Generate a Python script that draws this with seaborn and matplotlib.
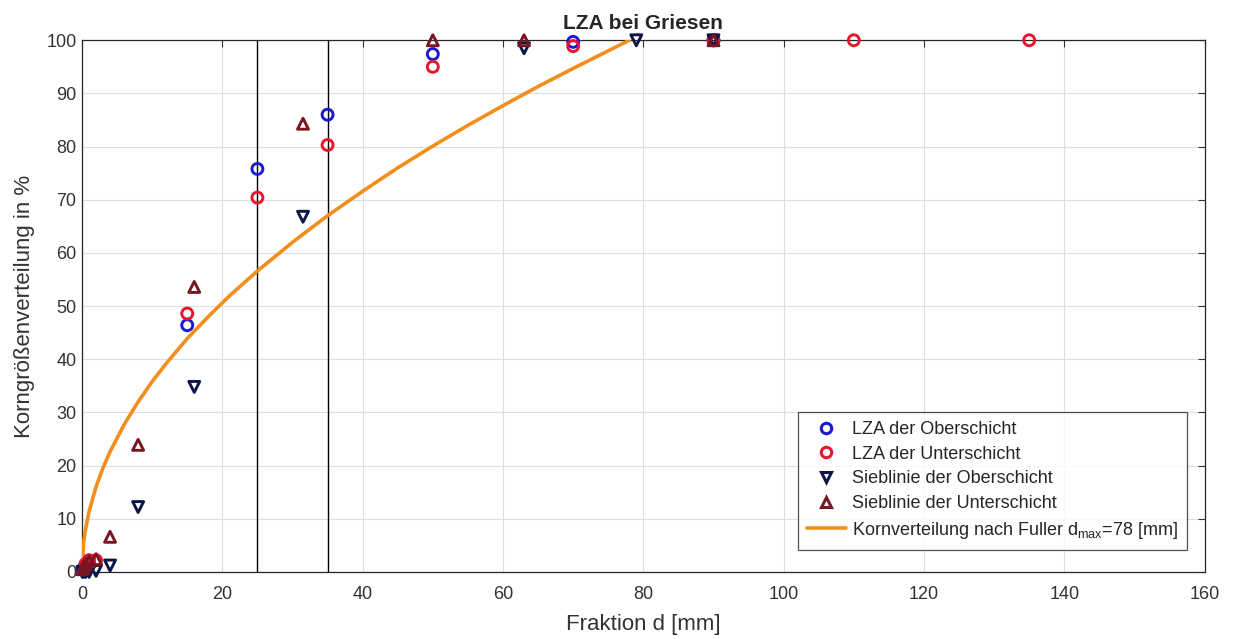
import numpy as np
import pandas as pd
import matplotlib
matplotlib.use("Agg")
import matplotlib.pyplot as plt
import seaborn as sns
from matplotlib.lines import Line2D

# values
lza_ober_x = [0.1, 0.5, 1, 15, 25, 35, 50, 70, 90]
lza_ober_y = [0.5, 1.0, 1.5, 46.4, 75.8, 86.0, 97.4, 99.7, 100]

lza_unter_x = [0.5, 1, 2, 15, 25, 35, 50, 70, 90, 110, 135]
lza_unter_y = [1.5, 2.2, 2.2, 48.6, 70.4, 80.3, 95.0, 98.9, 100, 100, 100]

sieb_ober_x = [0.063, 0.25, 0.5, 1, 2, 4, 8, 16, 31.5, 63, 79, 90]
sieb_ober_y = [0, 0, 0, 0, 0.2, 1.2, 12.2, 34.8, 66.8, 98.5, 100, 100]

sieb_unter_x = [0.063, 0.25, 0.5, 1, 2, 4, 8, 16, 31.5, 50, 63, 90]
sieb_unter_y = [0.5, 1.0, 1.5, 2.0, 2.4, 6.6, 23.9, 53.6, 84.3, 100, 100, 100]

fuller_d = [0, 0.25, 0.5, 1, 2, 3, 4, 6, 8, 10, 12, 15, 18, 21, 25, 30, 35,
            40, 45, 50, 55, 60, 65, 70, 78]
fuller_p = [0, 5.7, 8.0, 11.3, 16.0, 19.6, 22.6, 27.7, 32.0, 35.8, 39.2, 43.9,
            48.0, 51.9, 56.6, 62.0, 67.0, 71.6, 76.0, 80.1, 84.0, 87.7, 91.3,
            94.7, 100]

grenzen = [25, 35]

labels = ["LZA der Oberschicht", "LZA der Unterschicht",
          "Sieblinie der Oberschicht", "Sieblinie der Unterschicht",
          r"Kornverteilung nach Fuller d$_{max}$=78 [mm]"]

sns.set_style("white")
plt.rcParams['font.family'] = ['Liberation Sans', 'DejaVu Sans']
plt.rcParams['mathtext.default'] = 'regular'

fig = plt.figure(figsize=(12.33, 6.39), dpi=100)
ax = fig.add_axes([0.0665, 0.105, 0.9105, 0.832])

c_blue = "#1a1ad0"
c_red = "#e8152e"
c_navy = "#0d1745"
c_dred = "#7a1522"
c_orange = "#f28e1c"

series = [
    (lza_ober_x, lza_ober_y, "o", c_blue),
    (lza_unter_x, lza_unter_y, "o", c_red),
    (sieb_ober_x, sieb_ober_y, "v", c_navy),
    (sieb_unter_x, sieb_unter_y, "^", c_dred),
]
for x, y, m, c in series:
    sns.scatterplot(x=x, y=y, marker=m, s=62, facecolors="none",
                    edgecolor=c, linewidth=2.1, ax=ax, clip_on=False, zorder=4)

sns.lineplot(x=fuller_d, y=fuller_p, color=c_orange, linewidth=2.6, ax=ax,
             zorder=3)

for g in grenzen:
    ax.axvline(g, color="black", linewidth=1.0, zorder=2)

ax.set_xlim(0, 160)
ax.set_ylim(0, 100)
ax.set_xticks(np.arange(0, 161, 20))
ax.set_yticks(np.arange(0, 101, 10))
ax.grid(True, color="#dedede", linewidth=0.8)
ax.set_axisbelow(True)
for sp in ax.spines.values():
    sp.set_color("#262626")
    sp.set_linewidth(0.9)
ax.tick_params(direction="in", length=5, top=True, right=True, labelsize=13,
               colors="#333333")
ax.tick_params(axis="x", pad=10)
ax.tick_params(axis="y", pad=4)

ax.set_xlabel("Fraktion d [mm]", fontsize=16, color="#333333", labelpad=8)
ax.set_ylabel("Korngrößenverteilung in %", fontsize=16, color="#333333",
              labelpad=8)
ax.set_title("LZA bei Griesen", fontsize=15, fontweight="bold", pad=8)

handles = [
    Line2D([], [], marker="o", ls="none", mfc="none", mec=c_blue, mew=2.2, ms=7.5),
    Line2D([], [], marker="o", ls="none", mfc="none", mec=c_red, mew=2.2, ms=7.5),
    Line2D([], [], marker="v", ls="none", mfc="none", mec=c_navy, mew=2.2, ms=7.5),
    Line2D([], [], marker="^", ls="none", mfc="none", mec=c_dred, mew=2.2, ms=7.5),
    Line2D([], [], color=c_orange, lw=2.6),
]
leg = ax.legend(handles, labels, loc="lower right", fontsize=13,
                frameon=True, fancybox=False, edgecolor="#262626",
                bbox_to_anchor=(0.992, 0.025), handlelength=2.2,
                borderpad=0.5, labelspacing=0.42, handletextpad=0.3)
leg.get_frame().set_linewidth(0.9)

fig.savefig("out.png", dpi=100)
